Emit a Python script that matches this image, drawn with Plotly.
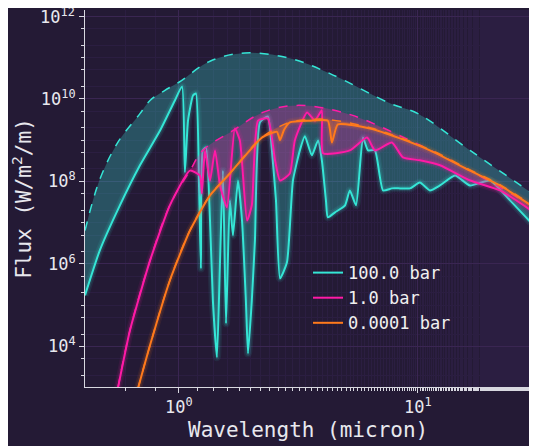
import numpy as np
import plotly.graph_objects as go

# %% Dados (log10 do comprimento de onda em micron, log10 do fluxo)
x_100_env = [-0.393, -0.331, -0.255, -0.163, -0.121, -0.06, 0.0, 0.13, 0.276, 0.464, 0.632, 0.883, 1.0, 1.218, 1.473]
y_100_env = [6.81, 8.05, 8.95, 9.64, 9.96, 10.2, 10.4, 10.91, 11.11, 10.98, 10.61, 9.89, 9.64, 8.75, 7.73]

x_100 = [-0.393, -0.331, -0.247, -0.163, -0.079, -0.017, 0.013, 0.025, 0.038, 0.059, 0.071, 0.084, 0.092,
         0.100, 0.113, 0.130, 0.142, 0.159, 0.172, 0.184, 0.197, 0.213, 0.226, 0.247, 0.264, 0.280, 0.289,
         0.305, 0.318, 0.339, 0.372, 0.389, 0.406, 0.423, 0.452, 0.477, 0.506, 0.527, 0.556, 0.582, 0.598,
         0.615, 0.623, 0.653, 0.695, 0.715, 0.741, 0.770, 0.791, 0.820, 0.854, 0.891, 0.925, 0.967, 1.008,
         1.050, 1.092, 1.155, 1.218, 1.301, 1.385, 1.473]
y_100 = [5.24, 6.33, 7.42, 8.39, 9.23, 9.96, 10.30, 8.22, 9.47, 10.08, 10.13, 7.90, 5.89,
         8.75, 8.82, 7.05, 5.12, 3.74, 6.08, 8.26, 4.56, 7.54, 6.69, 8.02, 7.05, 5.12, 3.83,
         5.12, 6.57, 9.43, 9.57, 8.75, 7.54, 5.65, 6.04, 8.02, 8.75, 9.09, 8.63, 8.99, 8.51,
         7.54, 7.13, 7.25, 7.42, 7.78, 7.42, 9.06, 8.75, 8.75, 7.78, 7.83, 7.83, 7.83, 7.97,
         7.78, 7.90, 8.14, 7.90, 8.02, 7.54, 7.00]

x_1_env = [-0.255, -0.205, -0.121, -0.038, 0.046, 0.1, 0.226, 0.351, 0.494, 0.703, 0.967, 1.218, 1.473]
y_1_env = [3.0, 4.39, 6.08, 7.42, 8.26, 8.75, 9.23, 9.67, 9.84, 9.64, 8.99, 8.26, 7.42]

x_1 = [-0.255, -0.205, -0.121, -0.038, 0.046, 0.088, 0.096, 0.109, 0.130, 0.151, 0.172, 0.201, 0.234,
       0.255, 0.285, 0.305, 0.331, 0.372, 0.402, 0.423, 0.464, 0.485, 0.536, 0.569, 0.598, 0.603, 0.715,
       0.787, 0.820, 0.891, 0.937, 1.008, 1.092, 1.218, 1.343, 1.473]
y_1 = [3.0, 4.39, 6.08, 7.42, 8.26, 8.14, 7.71, 8.75, 8.02, 8.75, 7.90, 7.37, 9.28,
       8.99, 7.05, 7.42, 9.47, 9.52, 8.51, 8.02, 8.19, 8.99, 9.67, 9.47, 9.72, 8.68, 8.75,
       9.06, 8.75, 8.94, 8.58, 8.51, 8.39, 8.02, 7.78, 7.30]

x_0001_env = [-0.172, -0.121, -0.038, 0.046, 0.130, 0.213, 0.347, 0.464, 0.548, 0.623, 0.799, 0.925, 1.050, 1.218, 1.343, 1.473]
y_0001_env = [2.97, 4.03, 5.60, 6.81, 7.66, 8.19, 9.06, 9.43, 9.5, 9.5, 9.3, 9.06, 8.77, 8.28, 7.92, 7.44]

x_0001 = [-0.172, -0.121, -0.038, 0.046, 0.130, 0.213, 0.347, 0.41, 0.423, 0.44, 0.464, 0.548, 0.623,
          0.640, 0.665, 0.799, 0.925, 1.050, 1.218, 1.343, 1.473]
y_0001 = [2.97, 4.03, 5.60, 6.81, 7.66, 8.19, 9.06, 9.2, 9.0, 9.25, 9.43, 9.47, 9.47,
          8.94, 9.38, 9.28, 9.04, 8.75, 8.26, 7.90, 7.42]

x_ticks = [1, 10]
x_ticklabels = ["10<sup>0</sup>", "10<sup>1</sup>"]
y_ticks = [1e4, 1e6, 1e8, 1e10, 1e12]
y_ticklabels = ["10<sup>4</sup>", "10<sup>6</sup>", "10<sup>8</sup>", "10<sup>10</sup>", "10<sup>12</sup>"]

series = [
    ("100.0 bar", x_100_env, y_100_env, x_100, y_100, "#35e6d6", "rgba(53,230,214,0.28)"),
    ("1.0 bar", x_1_env, y_1_env, x_1, y_1, "#ff1aa6", "rgba(255,26,166,0.28)"),
    ("0.0001 bar", x_0001_env, y_0001_env, x_0001, y_0001, "#ff7a1c", "rgba(255,122,28,0.28)"),
]

fig = go.Figure()
for nome, xe, ye, xs, ys, cor, cor_fill in series:
    xe_u = 10 ** np.array(xe)
    ye_u = 10 ** np.array(ye)
    xs_u = 10 ** np.array(xs)
    ys_u = 10 ** np.array(ys)
    # envelope tracejado
    fig.add_trace(go.Scatter(x=xe_u, y=ye_u, mode="lines", line=dict(color=cor, width=1.5, dash="dash", shape="spline"),
                             showlegend=False, hoverinfo="skip"))
    # espectro com preenchimento
    fig.add_trace(go.Scatter(x=xs_u, y=ys_u, mode="lines", fill="tonexty", fillcolor=cor_fill,
                             line=dict(color=cor, width=2, shape="spline", smoothing=0.5),
                             showlegend=False, hoverinfo="skip"))
    # brilho
    for w, a in [(8, 0.08), (5, 0.12)]:
        fig.add_trace(go.Scatter(x=xs_u, y=ys_u, mode="lines", line=dict(color=cor, width=w, shape="spline", smoothing=0.5),
                                 opacity=a, showlegend=False, hoverinfo="skip"))
    fig.add_trace(go.Scatter(x=[None], y=[None], mode="lines", name=nome, line=dict(color=cor, width=2)))

eixo = dict(type="log", showgrid=True, gridcolor="#3a2652", gridwidth=1, zeroline=False,
            showline=True, linecolor="#d8d8e0", ticks="outside", tickcolor="#d8d8e0",
            tickfont=dict(size=17, color="#e8e8ee"),
            minor=dict(showgrid=True, gridcolor="#2b1e41", ticks="outside", ticklen=3, tickcolor="#d8d8e0"))

fig.update_layout(
    width=529, height=438,
    margin=dict(l=77, r=6, t=2, b=59),
    paper_bgcolor="#241a35", plot_bgcolor="#241a35",
    font=dict(family="DejaVu Sans Mono", color="#e8e8ee"),
    xaxis=dict(eixo, range=[-0.393, 1.473], tickvals=x_ticks, ticktext=x_ticklabels),
    yaxis=dict(eixo, range=[3.02, 12.15], tickvals=y_ticks, ticktext=y_ticklabels,
               title=dict(text="Flux (W/m<sup>2</sup>/m)", font=dict(size=21), standoff=4)),
    legend=dict(x=0.5, y=0.35, xanchor="left", yanchor="top", bgcolor="rgba(0,0,0,0)", traceorder="normal",
                font=dict(size=17, color="#f0f0f0"), tracegroupgap=4),
)
# rótulo 10^12 (o plotly esconde o do topo)
fig.add_annotation(text=y_ticklabels[-1], xref="paper", yref="y", x=0, y=12, xanchor="right", yanchor="middle",
                   xshift=-8, showarrow=False, font=dict(size=17, color="#e8e8ee"))
fig.add_annotation(text="Wavelength (micron)", xref="paper", yref="paper", x=0.5, y=-0.115,
                   xanchor="center", yanchor="middle", showarrow=False, font=dict(size=21))

fig.write_html("out.html")
